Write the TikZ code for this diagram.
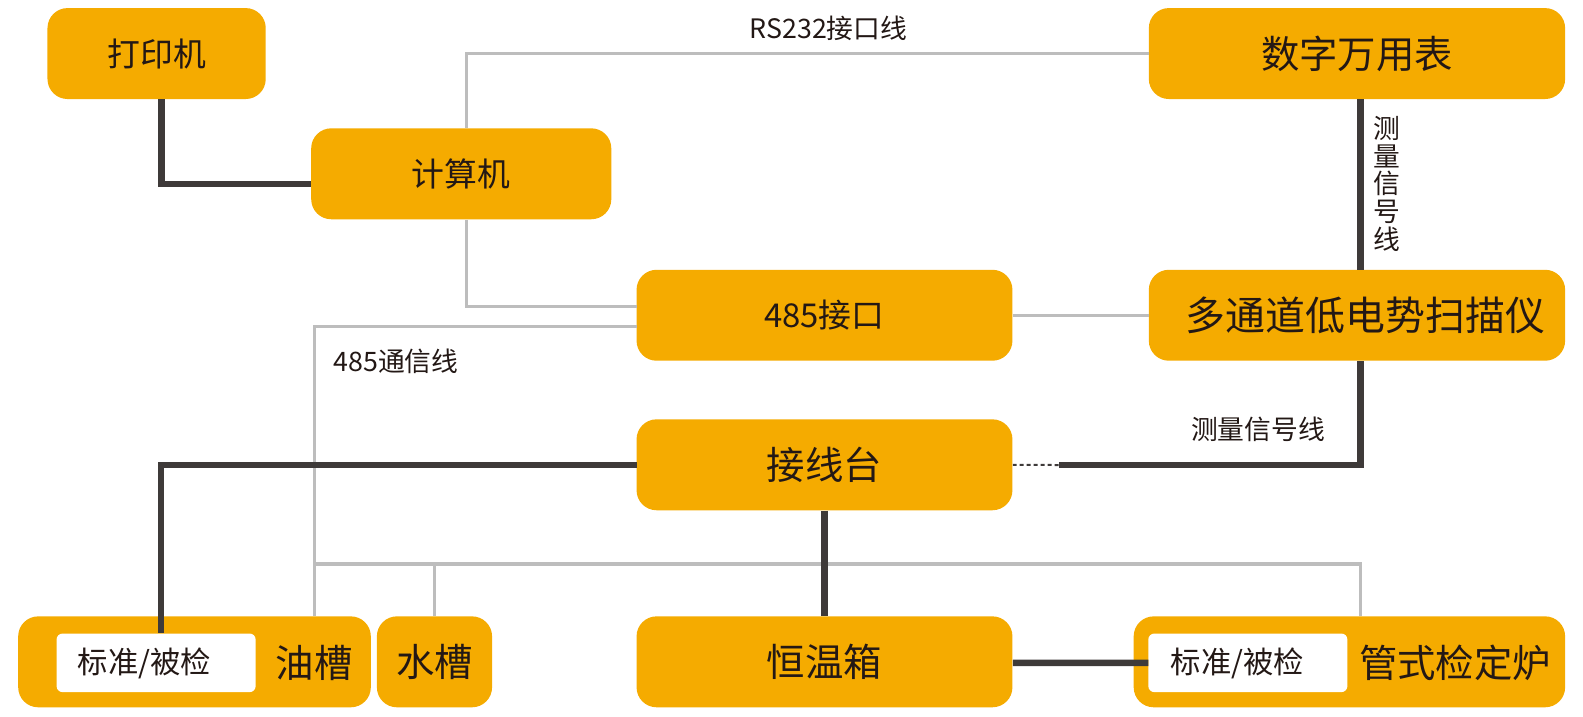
\documentclass[tikz,border=0pt]{standalone}
\usepackage{fontspec}
\setmainfont{Noto Sans CJK SC}
\usepackage{tikz}
\usetikzlibrary{positioning}
\definecolor{boxorange}{HTML}{F5AB00}
\definecolor{linedark}{HTML}{3E3A39}
\definecolor{linegray}{HTML}{BDBDBD}
\definecolor{textdark}{HTML}{231815}
\newcommand{\midtext}{\fontsize{32.5}{35}\selectfont}
\newcommand{\slottext}{\fontsize{30}{33}\selectfont}
\newcommand{\bigtext}{\fontsize{38}{42}\selectfont}
\newcommand{\lbltext}{\fontsize{26.5}{27.5}\selectfont}

\begin{document}
\begin{tikzpicture}[x=1pt,y=-1pt,scale=1.0104,transform shape,
		box/.style={shape=rectangle,rounded corners=20pt,fill=boxorange,inner sep=0,text=textdark,minimum height=90pt},
		slot/.style={shape=rectangle,rounded corners=6pt,fill=white,inner sep=0,minimum width=197pt,minimum height=58pt},
		darkline/.style={line width=6.5pt,color=linedark}, grayline/.style={line width=3.2pt,color=linegray},
		lbl/.style={inner sep=0,text=textdark,font=\lbltext}, txt/.style={inner sep=0,text=textdark}]
	\useasboundingbox (0,0) rectangle (1566.7,709.6);
	\node[box,minimum width=216pt,font=\midtext] (printer) at (155,53) {打印机};
	\node[box,minimum width=297pt,font=\midtext] (computer) at (456.5,172) {计算机};
	\node[box,minimum width=412pt,font=\bigtext] (dmm) at (1343,53) {数字万用表};
	\node[box,minimum width=372pt,font=\midtext] (port) at (816,312) {485接口};
	\node[box,minimum width=412pt] (scanner) at (1343,312) {};
	\node[txt,font=\fontsize{39.5}{42}\selectfont] (scannertext) at ([xshift=8pt]scanner.center) {多通道低电势扫描仪};
	\node[box,minimum width=372pt,font=\bigtext] (terminal) at (816,460) {接线台};
	\node[box,minimum width=349pt] (oil) at (192.5,655) {};
	\node[slot] (oilslot) at (154.5,656) {};
	\node[txt,anchor=west,font=\slottext] (oilslottext) at ([xshift=21pt]oilslot.west) {标准/被检};
	\node[txt,font=\bigtext] (oiltext) at (311,656) {油槽};
	\node[box,minimum width=114pt,font=\bigtext] (water) at (430,655) {水槽};
	\node[box,minimum width=372pt,font=\bigtext] (oven) at (816,655) {恒温箱};
	\node[box,minimum width=427pt] (furnace) at (1335.5,655) {};
	\node[slot] (furnaceslot) at (1235,656) {};
	\node[txt,anchor=west,font=\slottext] (furnaceslottext) at ([xshift=22pt]furnaceslot.west) {标准/被检};
	\node[txt,font=\bigtext] (furnacetext) at (1440,656) {管式检定炉};
	\coordinate (busw) at (311,558); \coordinate (buse) at (1346,558); \coordinate (buswater) at (430,558);
	\coordinate (tap) at ([xshift=45pt]terminal.east);
	% gray lines
	\draw[grayline] ([xshift=5pt]computer.north) |- (dmm.west);
	\draw[grayline] ([xshift=5pt]computer.south) |- ([yshift=9pt]port.west);
	\draw[grayline] ([yshift=-11pt]port.west) -| (oil.north -| busw);
	\draw[grayline] (port.east) -- (scanner.west);
	\draw[grayline] (busw) -- (buse) -- (furnace.north -| buse);
	\draw[grayline] (buswater) -- (water.north);
	% dark lines
	\draw[darkline] ([xshift=5pt]printer.south) |- ([yshift=-10pt]computer.west);
	\draw[darkline] ([xshift=3pt]dmm.south) -- ([xshift=3pt]scanner.north);
	\draw[darkline] ([xshift=3pt]scanner.south) |- (tap);
	\draw[line width=2pt,color=linedark,dash pattern=on 4pt off 3pt] (tap) -- (terminal.east);
	\draw[darkline] (terminal.west) -| ([xshift=5pt]oilslot.north);
	\draw[darkline] (terminal.south) -- (oven.north);
	\draw[darkline] ([yshift=-1pt]oven.east) -- (furnaceslot.west);
	% labels
	\node[lbl] (rslabel) at (820,28) {RS232接口线};
	\node[lbl,anchor=west] (commlabel) at (330,358) {485通信线};
	\node[lbl] (siglabel) at (1245,425) {测量信号线};
	\node[lbl,align=center] (vsiglabel) at (1373,182) {测\\量\\信\\号\\线};
\end{tikzpicture}
\end{document}
